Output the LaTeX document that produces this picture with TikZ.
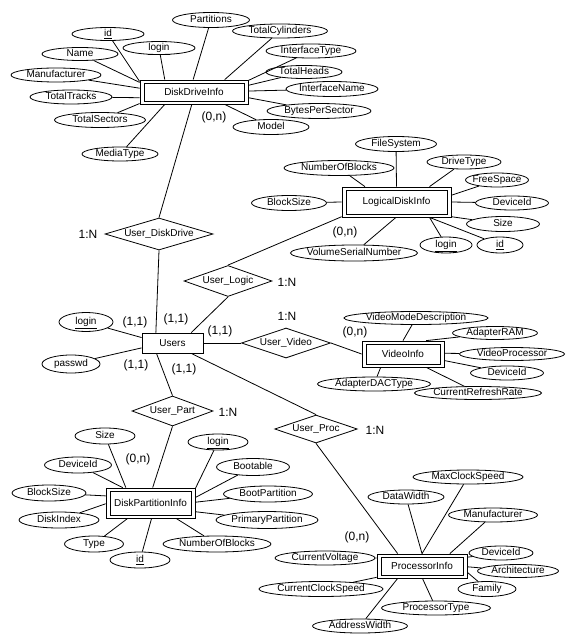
\documentclass[tikz,border=0pt]{standalone}
\usepackage{fontspec}
\setmainfont{Liberation Sans}
\usetikzlibrary{shapes.geometric}
\tikzset{
  every path/.style={line width=0.8pt},
  sz/.style 2 args={minimum width=#1pt, minimum height=#2pt},
  attr/.style={ellipse, draw, line width=0.8pt, inner xsep=-3pt, inner ysep=0pt,
    text height=7pt, text depth=2pt, font=\fontsize{10}{12}\selectfont},
  entity/.style={rectangle, draw, line width=0.8pt, inner sep=0pt,
    font=\fontsize{10}{12}\selectfont,
    path picture={\draw[line width=0.8pt]
      ([xshift=4pt,yshift=-3pt]path picture bounding box.north west) rectangle
      ([xshift=-4pt,yshift=3pt]path picture bounding box.south east);}},
  plainent/.style={rectangle, draw, line width=0.8pt, inner sep=0pt,
    font=\fontsize{10}{12}\selectfont},
  rel/.style={diamond, draw, line width=0.8pt, inner sep=0pt, aspect=4,
    font=\fontsize{10}{12}\selectfont},
  card/.style={inner sep=0pt, font=\fontsize{12}{14}\selectfont}
}
\begin{document}
\begin{tikzpicture}[x=1pt,y=-1pt]
\fill[white] (0,0) rectangle (575,644);
\useasboundingbox (0,0) rectangle (575,644);

% entities
\node[entity, sz={108}{24}] (dd) at (194,92) {DiskDriveInfo};
\node[entity, sz={109}{30}] (ld) at (396.5,202) {LogicalDiskInfo};
\node[entity, sz={82}{26}] (vi) at (403,354) {VideoInfo};
\node[entity, sz={89}{30}] (dp) at (150.5,503) {DiskPartitionInfo};
\node[entity, sz={90}{24}] (pi) at (422,566) {ProcessorInfo};
\node[plainent, sz={61}{20}] (us) at (172.5,343) {Users};

% relationships
\node[rel, sz={108}{32}] (rdd) at (159,234) {User\_DiskDrive};
\node[rel, sz={80}{31}] (rlg) at (228,281) {User\_Logic};
\node[rel, sz={88}{30}] (rvd) at (286,343) {User\_Video};
\node[rel, sz={81}{30}] (rpt) at (172.5,411) {User\_Part};
\node[rel, sz={80}{28}] (rpc) at (316,429) {User\_Proc};

% DiskDriveInfo attributes
\node[attr, sz={72}{13}] (a1) at (108,34) {\underline{id}};
\node[attr, sz={72}{13}] (a2) at (159,48) {\underline{login}};
\node[attr, sz={76}{13}] (a3) at (80,54) {Name};
\node[attr, sz={90}{14}] (a4) at (56,75) {Manufacturer};
\node[attr, sz={82}{14}] (a5) at (71,97) {TotalTracks};
\node[attr, sz={91}{15}] (a6) at (100,120) {TotalSectors};
\node[attr, sz={76}{14}] (a7) at (120,154) {MediaType};
\node[attr, sz={77}{15}] (a8) at (211,20) {Partitions};
\node[attr, sz={95}{14}] (a9) at (280,31) {TotalCylinders};
\node[attr, sz={90}{14}] (a10) at (311,51) {InterfaceType};
\node[attr, sz={76}{13}] (a11) at (304,72) {TotalHeads};
\node[attr, sz={92}{15}] (a12) at (332,89) {InterfaceName};
\node[attr, sz={104}{15}] (a13) at (319,111) {BytesPerSector};
\node[attr, sz={76}{15}] (a14) at (271,127) {Model};

% LogicalDiskInfo attributes
\node[attr, sz={81}{15}] (b1) at (396,144) {FileSystem};
\node[attr, sz={110}{15}] (b2) at (339,168) {NumberOfBlocks};
\node[attr, sz={74}{14}] (b3) at (464,162) {DriveType};
\node[attr, sz={63}{14}] (b4) at (497,180) {FreeSpace};
\node[attr, sz={73}{14}] (b5) at (512,203) {DeviceId};
\node[attr, sz={73}{15}] (b6) at (503,224) {Size};
\node[attr, sz={46}{16}] (b7) at (500,245) {\underline{id}};
\node[attr, sz={52}{16}] (b8) at (446,245) {\underline{login}};
\node[attr, sz={127}{16}] (b9) at (354,253) {VolumeSerialNumber};
\node[attr, sz={75}{15}] (b10) at (289,203) {BlockSize};

% Users attributes
\node[attr, sz={54}{19}] (c1) at (86,322) {\underline{login}};
\node[attr, sz={58}{18}] (c2) at (71,364) {passwd};

% VideoInfo attributes
\node[attr, sz={144}{13}] (d1) at (416,318) {VideoModeDescription};
\node[attr, sz={85}{13}] (d2) at (495,333) {AdapterRAM};
\node[attr, sz={105}{13}] (d3) at (512,354) {VideoProcessor};
\node[attr, sz={73}{14}] (d4) at (507,373) {DeviceId};
\node[attr, sz={127}{13}] (d5) at (478,393) {CurrentRefreshRate};
\node[attr, sz={113}{14}] (d6) at (374,384) {AdapterDACType};

% DiskPartitionInfo attributes
\node[attr, sz={60}{16}] (e1) at (105,436) {Size};
\node[attr, sz={67}{16}] (e2) at (78,465) {DeviceId};
\node[attr, sz={74}{16}] (e3) at (49,493) {BlockSize};
\node[attr, sz={80}{16}] (e4) at (59,520) {DiskIndex};
\node[attr, sz={59}{16}] (e5) at (94,544) {Type};
\node[attr, sz={60}{16}] (e6) at (140,560) {\underline{id}};
\node[attr, sz={108}{16}] (e7) at (217,544) {NumberOfBlocks};
\node[attr, sz={60}{16}] (e8) at (218,442) {\underline{login}};
\node[attr, sz={73}{17}] (e9) at (253,467) {Bootable};
\node[attr, sz={89}{16}] (e10) at (268,494) {BootPartition};
\node[attr, sz={102}{17}] (e11) at (267,520) {PrimaryPartition};

% ProcessorInfo attributes
\node[attr, sz={110}{14}] (f1) at (468,477) {MaxClockSpeed};
\node[attr, sz={76}{14}] (f2) at (406,497) {DataWidth};
\node[attr, sz={89}{14}] (f3) at (493,515) {Manufacturer};
\node[attr, sz={64}{14}] (f4) at (501,553) {DeviceId};
\node[attr, sz={81}{13}] (f5) at (518,571) {Architecture};
\node[attr, sz={58}{15}] (f6) at (487,589) {Family};
\node[attr, sz={109}{14}] (f7) at (436,608) {ProcessorType};
\node[attr, sz={95}{14}] (f8) at (360,626) {AddressWidth};
\node[attr, sz={100}{14}] (f9) at (325,558) {CurrentVoltage};
\node[attr, sz={124}{15}] (f10) at (321,589) {CurrentClockSpeed};

% cardinalities
\node[card] (k1) at (214,117) {(0,n)};
\node[card] (k2) at (345,232) {(0,n)};
\node[card] (k3) at (355,332) {(0,n)};
\node[card] (k4) at (138,459) {(0,n)};
\node[card] (k5) at (357,537) {(0,n)};
\node[card] (k6) at (135,322) {(1,1)};
\node[card] (k7) at (176,319) {(1,1)};
\node[card] (k8) at (220,331) {(1,1)};
\node[card] (k9) at (136,365) {(1,1)};
\node[card] (k10) at (184,369) {(1,1)};
\node[card] (n1) at (88,234) {1:N};
\node[card] (n2) at (287,282) {1:N};
\node[card] (n3) at (287,316) {1:N};
\node[card] (n4) at (228,412) {1:N};
\node[card] (n5) at (375,430) {1:N};

% DiskDriveInfo connectors
\draw (a1) -- (dd.169.5);
\draw (a2) -- (dd.157.5);
\draw (a3) -- (dd.170.5);
\draw (a4) -- (dd.176.8);
\draw (a5) -- (dd.186.3);
\draw (a6) -- (dd.192.5);
\draw (a7) -- (dd.203.2);
\draw (a8) -- (dd.94.8);
\draw (a9) -- (dd.22.5);
\draw (a10) -- (dd.12.5);
\draw (a11) -- (dd.7.4);
\draw (a12) -- (dd.1);
\draw (a13) -- (dd.-6.3);
\draw (a14) -- (dd.-22.5);

% LogicalDiskInfo connectors
\draw (b1) -- (ld.90);
\draw (b2) -- (ld.154.2);
\draw (b3) -- (ld.25.1);
\draw (b4) -- (ld.7.3);
\draw (b5) -- (ld.0);
\draw (b6) -- (ld.-15.4);
\draw (b7) -- (ld.-25.8);
\draw (b8) -- (ld.-25.8);
\draw (b9) -- (ld.268);
\draw (b10) -- (ld.180);

% Users connectors
\draw (c1) -- (us.170.5);
\draw (c2) -- (us.189.5);

% VideoInfo connectors
\draw (d1) -- (vi.90);
\draw (d2) -- (vi.30.6);
\draw (d3) -- (vi.1.4);
\draw (d4) -- (vi.-9.7);
\draw (d5) -- (vi.-30.6);
\draw (d6) -- (vi.211.8);

% DiskPartitionInfo connectors
\draw (e1) -- (dp.148);
\draw (e2) -- (dp.151.8);
\draw (e3) -- (dp.171);
\draw (e4) -- (dp.181);
\draw (e5) -- (dp.214.3);
\draw (e6) -- (dp.274);
\draw (e7) -- (dp.-31);
\draw (e8) -- (dp.18.6);
\draw (e9) -- (dp.7.7);
\draw (e10) -- (dp.1.3);
\draw (e11) -- (dp.-11.4);

% ProcessorInfo connectors
\draw (f1) -- (pi.90);
\draw (f2) -- (pi.90);
\draw (f3) -- (pi.24.8);
\draw (f4) -- (pi.11.3);
\draw (f5) -- (pi.-1.3);
\draw (f6) -- (pi.-8.8);
\draw (f7) -- (pi.272);
\draw (f8) -- (pi.207.6);
\draw (f9) -- (pi.170);
\draw (f10) -- (pi.194.9);

% relationship connectors
\draw (dd.260.5) -- (rdd.north);
\draw (rdd.south) -- (us.148);
\draw (ld.195.4) -- (rlg.north);
\draw (rlg.south) -- (us.29);
\draw (us.east) -- (rvd.west);
\draw (rvd.east) -- (vi.west);
\draw (us.213.7) -- (rpt.north);
\draw (rpt.south) -- (dp.82.4);
\draw (us.-29) -- (rpc.north);
\draw (rpc.south) -- (pi.153.4);
\end{tikzpicture}
\end{document}
